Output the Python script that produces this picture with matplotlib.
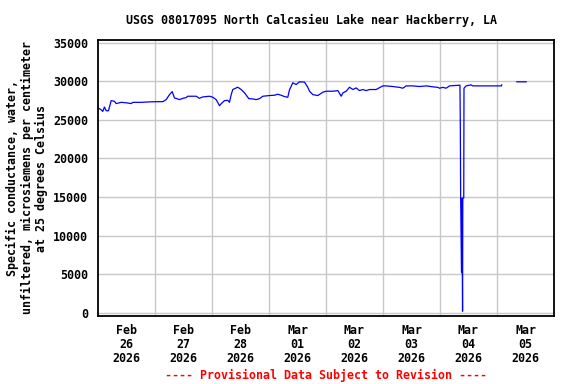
import numpy as np
import matplotlib
matplotlib.use("Agg")
import matplotlib.pyplot as plt
import matplotlib.dates as mdates

# Hours since 2026-02-26 00:00 and specific conductance (uS/cm)
hours = [0, 1.35, 2.0, 2.7, 3.45, 4.4, 5.55, 6.95, 7.65, 9.75, 11.9, 14.0, 14.65,
         18.2, 22.4, 27.3, 28.7, 30.1, 31.25, 32.2, 33.2, 34.3, 35.7, 37.1, 37.8,
         41.35, 42.7, 44.1, 46.95, 48.35, 49.75, 51.15, 51.9, 53.25, 54.65, 55.35,
         56.1, 56.75, 58.85, 60.3, 61.7, 63.5, 65.2, 66.6, 68.0, 69.4, 72.2, 74.3,
         75.7, 77.1, 78.5, 79.9, 80.6, 82.0, 83.45, 84.85, 86.95, 88.35, 89.05,
         90.45, 92.55, 94.65, 96.1, 98.85, 101.0, 102.4, 103.1, 104.5, 105.9,
         107.3, 108.7, 110.1, 111.5, 112.9, 114.3, 117.1, 119.9, 121.35, 124.1,
         126.95, 128.35, 129.75, 132.55, 135.4, 138.2, 140.95, 143.1, 143.8,
         145.2, 146.6, 148.0, 152.4, 152.55, 152.7, 153.05, 153.25, 153.4, 153.5,
         153.6, 154.0, 154.1, 155.0, 157.1, 157.8, 169.9, 170.0, 173.0, 176.35, 180.3]
values = [26530, 26300, 26080, 26650, 26170, 26170, 27480, 27390, 27100, 27260, 27200,
          27100, 27260, 27260, 27330, 27350, 27610, 28260, 28650, 27830, 27740, 27610,
          27780, 27870, 28050, 28050, 27780, 27960, 28050, 27920, 27610, 26830, 27090,
          27480, 27520, 27260, 28270, 28920, 29220, 28920, 28480, 27740, 27700, 27610,
          27740, 28050, 28140, 28180, 28310, 28180, 28010, 27910, 28850, 29790, 29570,
          29920, 29880, 29200, 28700, 28260, 28140, 28570, 28700, 28700, 28780, 28050,
          28480, 28700, 29220, 28920, 29130, 28780, 28920, 28780, 28920, 28920, 29390,
          29390, 29310, 29200, 29090, 29390, 29390, 29310, 29390, 29270, 29200, 29090,
          29200, 29090, 29390, 29480, 24570, 14860, 5200, 14860, 5200, 200, 14860,
          14860, 29090, 29390, 29520, 29390, 29390, 29520, np.nan, 29920, 29920]

day_labels = ["Feb\n26\n2026", "Feb\n27\n2026", "Feb\n28\n2026", "Mar\n01\n2026",
              "Mar\n02\n2026", "Mar\n03\n2026", "Mar\n04\n2026", "Mar\n05\n2026"]
yticks = [0, 5000, 10000, 15000, 20000, 25000, 30000, 35000]

start = np.datetime64("2026-02-26T00:00")
times = start + (np.array(hours) * 60).astype("timedelta64[m]")

font = "DejaVu Sans Mono"
fig = plt.figure(figsize=(5.76, 3.84), dpi=100)
ax = fig.add_axes([98 / 576, 1 - 315.7 / 384, (554 - 98) / 576, (315.7 - 39.5) / 384])

ax.plot(times, values, color="#0000ff", linewidth=0.9)

x0 = start
x1 = start + np.timedelta64(8, "D")
ax.set_xlim(x0, x1)
ax.set_ylim(-380, 35400)

noon = [start + np.timedelta64(12, "h") + np.timedelta64(i, "D") for i in range(8)]
midnight = [start + np.timedelta64(i, "D") for i in range(1, 8)]
ax.set_xticks(noon)
ax.set_xticklabels(day_labels, fontfamily=font, fontweight="bold", fontsize=8.4,
                   linespacing=1.1)
ax.set_xticks(midnight, minor=True)
ax.set_yticks(yticks)
ax.set_yticklabels([str(v) for v in yticks], fontfamily=font, fontweight="bold",
                   fontsize=8.4)
ax.tick_params(axis="both", which="both", length=0)
ax.tick_params(axis="y", pad=7)
ax.tick_params(axis="x", pad=6)

ax.grid(True, which="minor", axis="x", color="#c8c8c8", linewidth=1)
ax.grid(True, which="major", axis="y", color="#c8c8c8", linewidth=1)
ax.grid(False, which="major", axis="x")
ax.set_axisbelow(True)
for s in ax.spines.values():
    s.set_linewidth(1.3)
    s.set_color("black")

fig.text(312 / 576, 1 - 20 / 384, "USGS 08017095 North Calcasieu Lake near Hackberry, LA",
         ha="center", va="center", fontfamily=font, fontweight="bold", fontsize=8.4)
fig.text(27 / 576, 1 - 178 / 384,
         "Specific conductance, water,\nunfiltered, microsiemens per centimeter\nat 25 degrees Celsius",
         ha="center", va="center", rotation=90, fontfamily=font, fontweight="bold",
         fontsize=8.4, linespacing=1.15)
fig.text(326 / 576, 1 - 375 / 384, "---- Provisional Data Subject to Revision ----",
         ha="center", va="center", color="red", fontfamily=font, fontweight="bold",
         fontsize=8.4)

fig.savefig("out.png", dpi=100)
